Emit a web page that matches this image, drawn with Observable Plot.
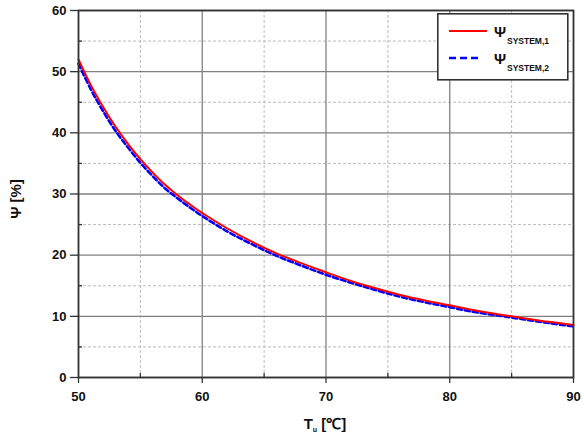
<!DOCTYPE html>
<html>
<head>
<meta charset="utf-8">
<script src="https://cdn.jsdelivr.net/npm/d3@7"></script>
<script src="https://cdn.jsdelivr.net/npm/@observablehq/plot@0.6"></script>
<style>
  html, body { margin: 0; padding: 0; background: #fff; }
  #wrap { position: relative; width: 584px; height: 435px; font-family: "Liberation Sans", Arial, sans-serif; }
  #legend { position: absolute; left: 437px; top: 13px; }
</style>
</head>
<body>
<div id="wrap"></div>
<script>
// Data
const tempX = [50, 51, 52, 53, 54, 55, 56, 57, 58, 59, 60, 62, 64, 66, 68, 70, 72, 74, 76, 78, 80, 82, 84, 86, 88, 90];
const psiSystem1 = [52.0, 47.8, 44.2, 41.0, 38.2, 35.7, 33.5, 31.5, 29.8, 28.3, 26.9, 24.4, 22.2, 20.3, 18.7, 17.2, 15.8, 14.6, 13.5, 12.6, 11.8, 11.0, 10.3, 9.7, 9.1, 8.6];
const psiSystem2 = [51.3, 47.1, 43.5, 40.3, 37.6, 35.1, 32.9, 30.9, 29.3, 27.8, 26.4, 23.9, 21.8, 19.9, 18.3, 16.8, 15.5, 14.3, 13.2, 12.3, 11.5, 10.7, 10.1, 9.5, 8.9, 8.35];
const xMajorTicks = [50, 60, 70, 80, 90];
const xMinorTicks = [55, 65, 75, 85];
const yMajorTicks = [0, 10, 20, 30, 40, 50, 60];
const yMinorTicks = [5, 15, 25, 35, 45, 55];
const seriesNames = ["SYSTEM,1", "SYSTEM,2"];

const s1 = tempX.map((x, i) => ({x, y: psiSystem1[i]}));
const s2 = tempX.map((x, i) => ({x, y: psiSystem2[i]}));

const chart = Plot.plot({
  width: 584,
  height: 435,
  marginLeft: 78,
  marginRight: 11,
  marginTop: 10,
  marginBottom: 58,
  style: {fontFamily: "'Liberation Sans', Arial, sans-serif", fontWeight: "bold", fontSize: "13px", color: "#111", background: "#fff"},
  x: {domain: [50, 90], label: null},
  y: {domain: [0, 60], label: null},
  marks: [
    Plot.gridX(xMinorTicks, {stroke: "#bbb", strokeOpacity: 1, strokeDasharray: "3,2", strokeWidth: 1}),
    Plot.gridY(yMinorTicks, {stroke: "#bbb", strokeOpacity: 1, strokeDasharray: "3,2", strokeWidth: 1}),
    Plot.gridX(xMajorTicks, {stroke: "#808080", strokeOpacity: 1, strokeWidth: 1.3}),
    Plot.gridY(yMajorTicks, {stroke: "#808080", strokeOpacity: 1, strokeWidth: 1.3}),
    Plot.line(s2, {x: "x", y: "y", stroke: "#0000ff", strokeWidth: 2.6, strokeDasharray: "5,3", curve: "catmull-rom"}),
    Plot.line(s1, {x: "x", y: "y", stroke: "#ff0000", strokeWidth: 2, curve: "catmull-rom"}),
    Plot.frame({stroke: "#333", strokeWidth: 1.7}),
    Plot.axisX(xMajorTicks, {tickSize: 6, tickPadding: 8, stroke: "#333", strokeWidth: 1.3, fontWeight: "bold", fontSize: 13, fill: "#111", label: null}),
    Plot.axisX(xMinorTicks, {tickSize: -4, text: null, stroke: "#333", strokeWidth: 1.3, label: null}),
    Plot.axisY(yMajorTicks, {tickSize: 8, tickPadding: 4, stroke: "#333", strokeWidth: 1.3, fontWeight: "bold", fontSize: 13, fill: "#111", label: null}),
    Plot.axisY(yMinorTicks, {tickSize: -4, text: null, stroke: "#333", strokeWidth: 1.3, label: null})
  ]
});

// axis titles as real text in the SVG
const svgNS = "http://www.w3.org/2000/svg";
const yTitle = document.createElementNS(svgNS, "text");
yTitle.setAttribute("transform", "translate(21,199) rotate(-90)");
yTitle.setAttribute("text-anchor", "middle");
yTitle.setAttribute("font-size", "15");
yTitle.setAttribute("font-weight", "bold");
yTitle.setAttribute("fill", "#111");
yTitle.textContent = "Ψ [%]";
chart.appendChild(yTitle);

const xTitle = document.createElementNS(svgNS, "text");
xTitle.setAttribute("x", "325");
xTitle.setAttribute("y", "429");
xTitle.setAttribute("text-anchor", "middle");
xTitle.setAttribute("font-size", "15");
xTitle.setAttribute("font-weight", "bold");
xTitle.setAttribute("fill", "#111");
xTitle.innerHTML = '<tspan>T</tspan><tspan font-size="7" dy="3">u</tspan><tspan dy="-3"> [℃]</tspan>';
chart.appendChild(xTitle);

const wrap = document.getElementById("wrap");
wrap.appendChild(chart);

// legend overlay
const legend = document.createElement("div");
legend.id = "legend";
legend.innerHTML = `
<svg width="132" height="68" xmlns="http://www.w3.org/2000/svg" font-family="'Liberation Sans', Arial, sans-serif" font-weight="bold" fill="#111">
  <rect x="0.8" y="0.8" width="130" height="66" fill="#fff" stroke="#333" stroke-width="1.6"/>
  <line x1="12" y1="18" x2="50" y2="18" stroke="#ff0000" stroke-width="2.2"/>
  <text x="57" y="24" font-size="15">Ψ</text>
  <text x="70" y="31" font-size="8.5">${seriesNames[0]}</text>
  <line x1="12" y1="45" x2="42" y2="45" stroke="#0000ff" stroke-width="2.6" stroke-dasharray="7,4"/>
  <text x="57" y="51" font-size="15">Ψ</text>
  <text x="70" y="58" font-size="8.5">${seriesNames[1]}</text>
</svg>`;
wrap.appendChild(legend);
</script>
</body>
</html>
